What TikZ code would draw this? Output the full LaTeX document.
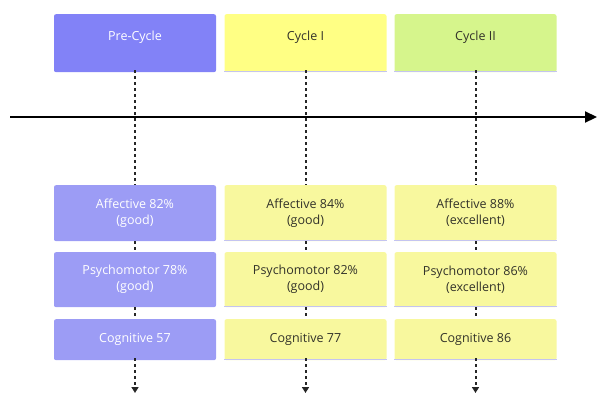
\documentclass[tikz,border=0pt]{standalone}
\usepackage{fontspec}
\setmainfont{Open Sans}
\usetikzlibrary{arrows.meta}
\definecolor{hblue}{HTML}{8282F7}
\definecolor{lblue}{HTML}{9C9CF5}
\definecolor{hyel}{HTML}{FFFF84}
\definecolor{lyel}{HTML}{F8F89E}
\definecolor{hgreen}{HTML}{D6F58C}
\definecolor{shad}{HTML}{C4C4F0}
\definecolor{tdark}{HTML}{33332A}
\begin{document}
\begin{tikzpicture}[x=1pt,y=-1pt,
  box/.style={rounded corners=2pt,minimum width=162pt,align=center,inner sep=0pt,
    font=\fontsize{12.5}{16}\selectfont},
  blues/.style={box,fill=lblue,text=white},
  yels/.style={box,fill=lyel,text=tdark},
  dot/.style={line width=2pt,dash pattern=on 3pt off 3pt,draw=black!85},
  sh/.style={draw=shad,line width=1.2pt}]
\useasboundingbox (0,0) rectangle (597,394);
% headers
\node[box,fill=hblue,text=white,minimum height=58pt,anchor=north] (h1) at (135,14) {\raisebox{14pt}{Pre-Cycle}};
\node[box,fill=hyel,text=tdark,minimum height=58pt,anchor=north] (h2) at (305.5,14) {\raisebox{14pt}{Cycle I}};
\node[box,fill=hgreen,text=tdark,minimum height=58pt,anchor=north] (h3) at (475.5,14) {\raisebox{14pt}{Cycle II}};
\draw[sh] ([yshift=1pt]h2.south west) -- ([yshift=1pt]h2.south east);
\draw[sh] ([yshift=1pt]h3.south west) -- ([yshift=1pt]h3.south east);
% timeline arrow
\coordinate (ta) at (10,117);
\coordinate (tb) at (597,117);
\draw[line width=2.2pt,-{Triangle[length=12pt,width=11pt]}] (ta) -- (tb);
% column 1
\node[blues,minimum height=56pt,anchor=north] (a1) at (135,185) {Affective 82\%\\(good)};
\node[blues,minimum height=55pt,anchor=north] (p1) at (135,252) {Psychomotor 78\%\\(good)};
\node[blues,minimum height=41pt,anchor=north] (c1) at (135,319) {Cognitive 57};
% column 2
\node[yels,minimum height=56pt,anchor=north] (a2) at (305.5,185) {Affective 84\%\\(good)};
\node[yels,minimum height=55pt,anchor=north] (p2) at (305.5,252) {Psychomotor 82\%\\(good)};
\node[yels,minimum height=41pt,anchor=north] (c2) at (305.5,319) {Cognitive 77};
% column 3
\node[yels,minimum height=56pt,anchor=north] (a3) at (475.5,185) {Affective 88\%\\(excellent)};
\node[yels,minimum height=55pt,anchor=north] (p3) at (475.5,252) {Psychomotor 86\%\\(excellent)};
\node[yels,minimum height=41pt,anchor=north] (c3) at (475.5,319) {Cognitive 86};
\foreach \n in {a2,p2,c2,a3,p3,c3}{
  \draw[sh] ([yshift=1pt]\n.south west) -- ([yshift=1pt]\n.south east);}
% end coordinates
\coordinate (e1) at (135,393);
\coordinate (e2) at (305.5,393);
\coordinate (e3) at (475.5,393);
% dotted connectors
\foreach \i in {1,2,3}{
  \draw[dot] ([yshift=2pt]h\i.south) -- (a\i.north);
  \draw[dot] (a\i.south) -- (p\i.north);
  \draw[dot] (p\i.south) -- (c\i.north);
  \draw[dot,-{Triangle[length=6pt,width=7pt]}] ([yshift=2pt]c\i.south) -- (e\i);
}
\end{tikzpicture}
\end{document}
